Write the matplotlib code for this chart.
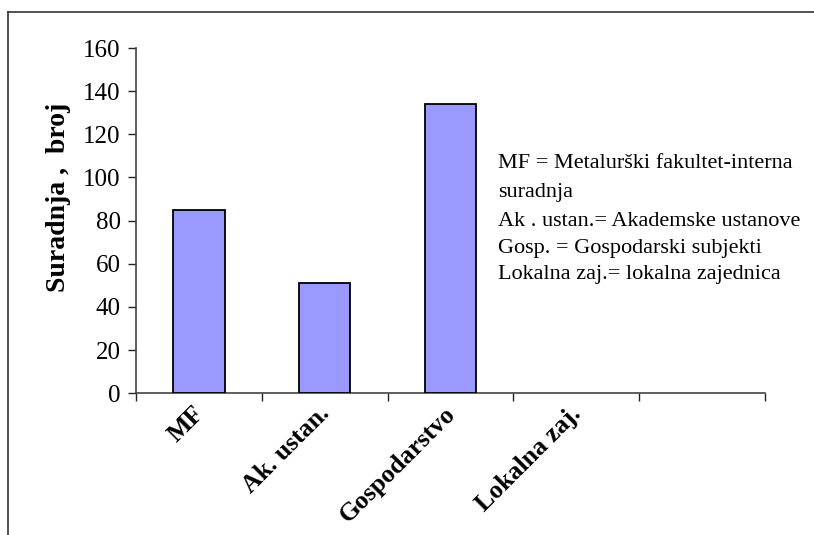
import numpy as np
import matplotlib
matplotlib.use("Agg")
import matplotlib.pyplot as plt
from matplotlib.lines import Line2D
import matplotlib.transforms as mtransforms

categories = ["MF", "Ak. ustan.", "Gospodarstvo", "Lokalna zaj.", ""]
values = [85, 51, 134, 0, None]
y_ticks = [0, 20, 40, 60, 80, 100, 120, 140, 160]
y_label = "Suradnja ,  broj"
legend_lines = [
    "MF = Metalurški fakultet-interna",
    "suradnja",
    "Ak . ustan.= Akademske ustanove",
    "Gosp. = Gospodarski subjekti",
    "Lokalna zaj.= lokalna zajednica",
]

plt.rcParams["font.family"] = ["Liberation Serif", "DejaVu Serif"]

W, H = 814, 535
fig = plt.figure(figsize=(W / 100, H / 100), dpi=100)
ax = fig.add_axes([136 / W, 1 - 393.3 / H, (765 - 136) / W, (393.3 - 48) / H])

x = np.arange(len(categories))
for xi, v in zip(x, values):
    if v:
        ax.bar(xi, v, width=0.41, color="#9999FF", edgecolor="black", linewidth=1.3, zorder=3)

ax.set_xlim(-0.5, len(categories) - 0.5)
ax.set_ylim(0, 160)
ax.set_yticks(y_ticks)
ax.set_yticklabels([str(t) for t in y_ticks], fontsize=18)
ax.tick_params(axis="y", direction="out", length=6, width=1, pad=5, color="#222222")

# x: category labels at centers, tick marks at boundaries
ax.set_xticks(x)
ax.set_xticklabels(categories, fontsize=18.5, fontweight="bold", rotation=45,
                   ha="right", va="center", rotation_mode="anchor")
ax.tick_params(axis="x", which="major", length=0, pad=0)
ax.set_xticks(np.arange(-0.5, len(categories), 1.0), minor=True)
ax.tick_params(axis="x", which="minor", direction="out", length=6, width=1, color="#222222")
offset = mtransforms.ScaledTranslation(1 / 100, -17 / 100, fig.dpi_scale_trans)
for lbl in ax.get_xticklabels():
    lbl.set_transform(lbl.get_transform() + offset)

for s in ["top", "right"]:
    ax.spines[s].set_visible(False)
for s in ["left", "bottom"]:
    ax.spines[s].set_color("#444444")
    ax.spines[s].set_linewidth(1.2)

ax.set_ylabel(y_label, fontsize=20, fontweight="bold")
ax.yaxis.set_label_coords(-0.103, 0.566)

# legend text block
ys = [163, 193, 221, 248, 275]
for t, yy in zip(legend_lines, ys):
    fig.text(498 / W, 1 - yy / H, t, fontsize=16, ha="left", va="center")

# outer frame (top and left)
fig.add_artist(Line2D([8 / W, 1], [1 - 12 / H, 1 - 12 / H], color="#333333", lw=1.2))
fig.add_artist(Line2D([8 / W, 8 / W], [0, 1 - 12 / H], color="#333333", lw=1.2))

fig.savefig("out.png", dpi=100)
